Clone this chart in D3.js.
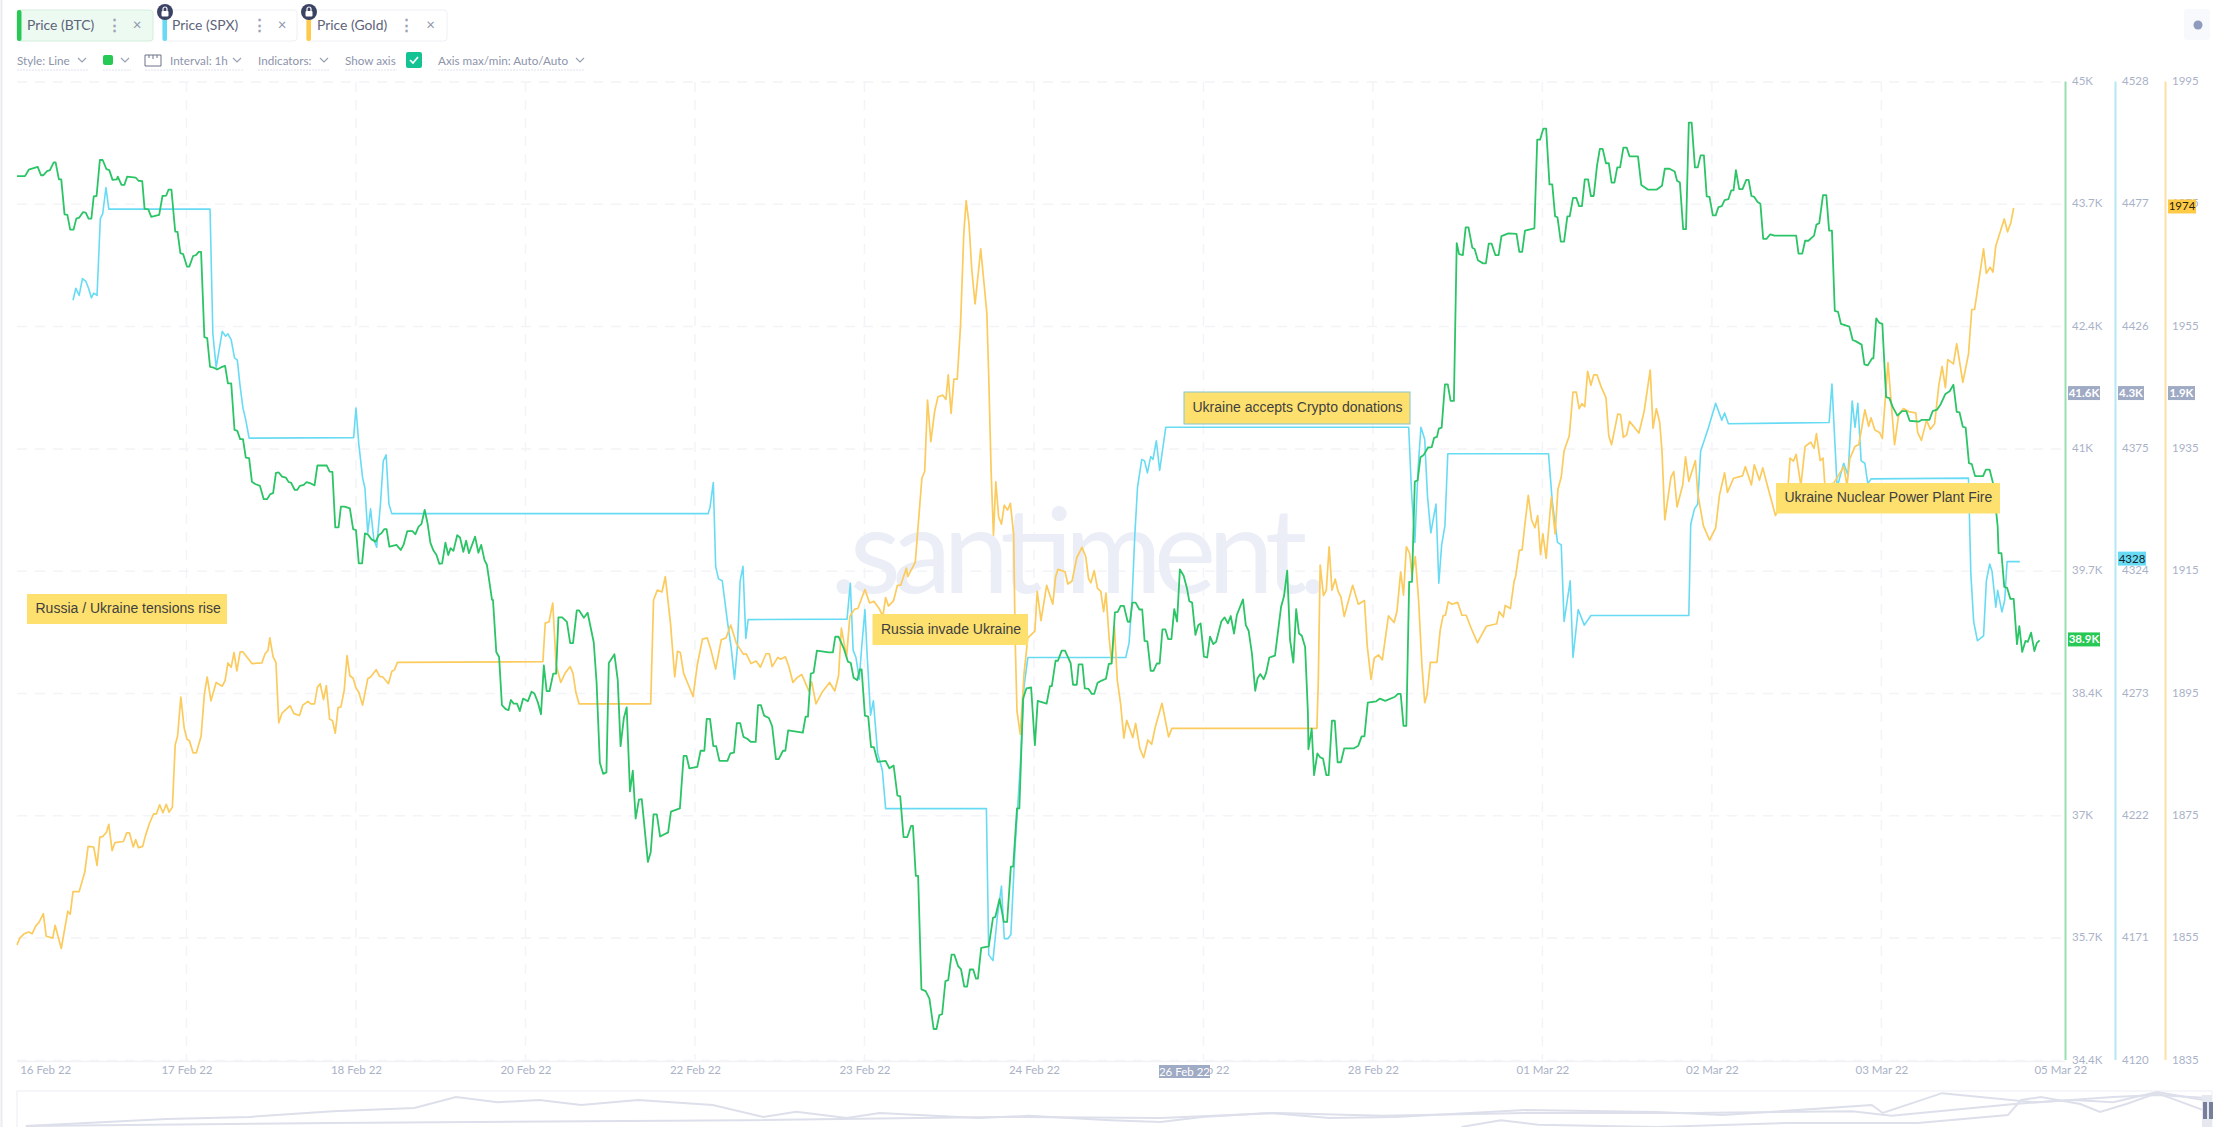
<!DOCTYPE html>
<html>
<head>
<meta charset="utf-8">
<script src="https://cdnjs.cloudflare.com/ajax/libs/d3/7.8.5/d3.min.js"></script>
<style>
html, body { margin: 0; padding: 0; background: #fff; }
svg { display: block; }
text { font-family: Lato, sans-serif; }
.axis text { font-size: 11.5px; fill: #aab2c8; }
.note text { font-family: "Liberation Sans", Arial, sans-serif; }
</style>
</head>
<body>
<div id="chart"></div>
<script>
// Hours since start of the window and price at that hour
var btcHours = [0,1.7,2.5,4.4,5.1,5.6,6.4,7,7.8,8.2,8.9,9.4,10.1,10.7,11.3,12,12.6,13.2,14,14.6,15.2,15.8,16.3,16.9,17.6,18.2,19,19.6,20.3,21.2,21.4,22.2,22.8,23.4,25.2,25.8,26.6,27.1,27.9,28.5,30.2,30.9,31.7,32.2,32.8,33.6,34.1,34.7,35.3,36.1,36.6,37.4,38,38.6,39.1,39.8,40.4,41,41.8,42.5,43.4,44.2,44.8,45.5,46.2,46.8,47.4,48,48.6,49.3,49.9,50.6,51.6,52.4,53.1,53.8,54.4,55,55.6,56.3,57.1,57.7,58.2,59,59.5,60.1,60.9,61.5,62.2,63.2,63.8,65.8,66.4,67,67.6,68.3,68.8,69.6,70.7,71.4,72,72.6,73.3,73.9,74.5,75.3,76.2,76.8,77.4,78,78.5,79.1,79.8,80.6,81.5,82.1,82.9,84,84.6,85.3,85.9,86.6,87.2,87.8,88.4,89.1,89.7,90.3,91,91.6,92.1,92.7,93.5,94.1,94.8,95.4,96,97.3,98,98.6,99.3,99.8,100.9,101.1,101.8,102.4,103,103.8,104.4,104.9,105.5,106.2,106.8,107.5,108.5,109.3,109.9,110.6,111.3,111.9,112.5,113.1,113.9,114.5,115,115.8,116.8,117.5,118.1,118.9,119.4,120.4,121.2,122.5,123.1,123.8,124.5,125.2,125.7,126.9,127.6,128.2,128.9,129.5,130.2,130.8,131.4,132.1,132.7,134,134.6,135.2,135.9,136.6,138.3,138.9,140.8,141.6,142.2,142.8,144.5,145.2,146,146.5,147.2,147.9,148.5,149.2,150.9,151.5,152.3,152.9,153.6,154.3,155.1,155.9,156.9,157.4,158,158.7,159.7,160.4,161.2,161.8,162.7,163.2,163.8,166.9,167.5,168,168.6,169.2,169.9,172.4,173.3,173.8,174.5,175.6,176.5,177.1,177.7,178.5,179,179.4,180.1,180.8,181.4,182,182.8,184.5,185.3,186.2,187,187.6,188.3,189.1,189.9,190.3,190.9,191.4,192.1,193,193.8,194.7,195.3,195.9,196.5,197.2,197.8,198.5,199.1,199.9,200.5,201.2,201.8,202.4,203.1,203.7,204.1,204.8,206.4,207.3,207.8,208.7,209.6,210.3,211.1,211.6,212.4,212.9,213.7,214.4,215.4,216.2,216.8,218.7,219.4,219.8,220.6,221.1,221.9,222.6,223.8,224.3,225.1,225.5,226.3,226.8,227.6,228.3,228.8,229.5,230.4,231.3,231.9,232.5,233.2,233.8,234.4,235.1,235.9,236.4,236.9,237.6,238.4,239,239.5,240.1,240.8,241.4,242.1,242.7,243.3,243.9,244.5,245.2,245.8,246.4,247,247.8,248.5,249,249.6,250.3,250.9,251.4,252.1,252.8,253.4,254.1,254.7,255.8,256.5,257.2,257.8,258.5,259.1,260.4,261,261.6,262.3,263,263.5,264.1,264.8,265.3,266,267.2,268.5,269.1,269.8,270.4,271.1,271.7,272.3,272.9,273.6,274.2,274.3,275,275.5,276.2,276.8,277.4,278.1,278.6,279.3,279.9,280.5,281.2,281.9,283.9,284.9,285.6,286.2,286.9,288.7,289.5,290.6,292.7,293.3,293.9,294.5,295.1,295.7,296.3,296.9,297.5,298.1,298.8,299.7,300.5,301,301.6,302,302.6,303.3,303.9,304.5,305.2,305.8,306.3,307.1,307.7,308.3,309.1,309.6,310.3,311.4,312,312.6,313.2,314,314.7,315.3,316.8,318.5,319.1,319.7,320.3,322.3,322.9,323.5,324.2,324.8,325.5,326.1,326.7,327.2,327.9,328.6,329.3,329.8,330.5,331.2,331.8,332.4,333,333.7,334.3,334.9,335.6,336.2,336.8,337.5,338.1,338.7,339.3,339.9,340.5,341.2,341.9,342.5,344.3,345,346.4,348.3,349.4,350,351,352.1,352.6,353.2,353.9,354.5,355.1,355.7,356.4,357,357.6,358.3,358.9,359.5,360.2,360.8,361.4,362.1,362.7,363.5,364.1,364.6,365.1,365.8,366.5,367.3,367.8,368.4,369,369.7,370.3,370.9,371.6,372.4,373.3,377.9,378.4,379.2,379.8,380.5,381.7,382.2,382.8,383.6,384.3,384.9,385.5,386.1,386.8,387.4,389.2,389.9,390.6,391.8,392.4,393.1,394,394.3,394.9,395.6,396.2,397,397.7,398.4,399.4,400.4,401.3,402,403.9,404.6,406.2,406.9,407.8,408.6,409.6,410.5,411.3,412,412.6,413.3,413.9,414.6,415.2,415.9,417.6,418.2,419,419.8,420.7,420.9,421.5,422.1,422.7,423.4,424.1,424.8,425.3,425.9,426.6,427.1,427.8,428.5,429,429.6];
var btcPrices = [43980,43980,44050,44080,43990,43990,44035,44045,44130,44130,43945,43945,43565,43560,43400,43400,43520,43530,43590,43585,43520,43520,43760,43765,44155,44155,44055,44045,43940,43945,43975,43885,43885,43975,43965,43930,43925,43625,43620,43540,43560,43765,43770,43835,43835,43380,43375,43145,43135,43000,43000,43115,43125,43160,43160,42235,42225,41915,41905,41885,41910,41925,41735,41735,41230,41220,41130,41130,40930,40925,40670,40645,40625,40480,40480,40535,40545,40765,40770,40725,40715,40665,40660,40580,40580,40625,40635,40665,40655,40630,40845,40845,40780,40775,40175,40175,40400,40400,40380,40155,40145,39785,39785,40110,40100,40045,40020,40090,40110,40155,40155,39965,39975,39985,39930,39985,40135,40135,40100,40183,40210,40365,40220,40010,39930,39875,39780,39785,40010,39875,39950,39920,40090,40065,39910,40030,39895,40075,39900,39985,39820,39770,39390,39390,38825,38770,38250,38205,38195,38305,38265,38265,38185,38320,38290,38395,38375,38285,38150,38680,38400,38400,38590,38590,39200,39200,39150,38920,38920,39275,39275,39195,39250,38930,38500,37625,37505,37520,38705,38800,38520,37805,38110,38225,37315,37540,37020,37225,37230,36550,36655,37065,37065,36825,36870,37095,37130,37700,37700,37565,37580,37755,37755,38100,38100,37805,37805,37645,37645,37725,37735,38055,38055,37905,37885,37850,37850,38250,38250,38135,38110,38020,37665,37665,37755,37755,37975,37950,38125,38125,38590,38600,38840,38820,38820,38990,38990,38865,38720,38705,38545,38520,38635,38635,38135,38125,37795,37795,37635,37645,37565,37595,37270,37260,36820,36820,36940,36940,36400,36400,35170,35150,35070,34740,34740,34890,34900,35260,35270,35545,35545,35420,35390,35200,35200,35385,35385,35285,35285,35620,35635,35945,35955,36150,35900,35900,36500,36500,37130,37130,38320,38430,38440,37815,38295,38265,38455,38455,38730,38730,38840,38840,38705,38470,38470,38690,38690,38430,38425,38370,38370,38490,38515,38535,38695,38700,39255,39260,39325,39325,39155,39150,39360,39360,39285,39285,38945,38940,38620,38620,38700,38700,39070,39070,38965,38965,39290,39155,39720,39650,39515,39375,39360,39010,39115,39135,38775,38765,38990,38910,38935,39155,39200,39135,39215,39025,39225,39395,39115,39055,38810,38405,38540,38585,38530,38595,38765,38785,39315,39425,39705,38955,38710,39290,39025,39000,38880,38160,37770,37995,37490,37725,37685,37670,37490,37490,38080,38080,37630,37630,37780,37780,37810,37910,37910,38275,38290,38320,38295,38340,38370,38370,38025,38025,39585,39585,40670,40685,40935,40960,41040,41045,41145,41155,41245,41255,41725,41725,41545,41545,43255,43135,43125,43425,43425,43205,43190,43070,43035,43035,43250,43250,43125,43125,43330,43360,43355,43160,43160,43390,43415,44375,44375,44495,44495,43890,43890,43545,43535,43270,43270,43545,43545,43745,43745,43655,43655,43945,43945,43765,43765,44095,44275,44275,44120,44120,43910,43910,44075,44075,44290,44290,44195,44195,43885,43835,43835,43875,44060,44060,44030,43930,43910,43405,43405,44560,44560,44075,44075,44205,44205,43760,43755,43555,43555,43645,43655,43720,43730,43825,43825,44045,43840,43840,43940,43940,43765,43755,43700,43680,43300,43300,43350,43335,43335,43140,43140,43280,43280,43335,43455,43470,43775,43775,43390,43390,42520,42510,42380,42350,42205,42190,42155,41940,41930,42005,42005,42440,42390,42380,41585,41575,41480,41385,41435,41435,41330,41320,41340,41340,41435,41450,41510,41620,41650,41720,41425,41420,41265,41255,40870,40860,40730,40730,40800,40800,40635,40185,39895,39895,39530,39520,39400,39400,38910,39105,38825,38945,38935,39035,38835,38920,38950];

var spxHours = [11.9,12.5,13.2,13.9,14.6,15.2,15.8,16.3,17,17.7,18.2,18.9,19.5,41,41.6,42.3,43.6,44.3,44.8,45.5,46.2,46.8,47.4,48,48.6,49.3,71.5,72,72.6,73.4,73.9,74.5,75.1,75.8,76.4,77.2,77.8,78.4,79,79.6,146.8,147.2,147.9,148.4,149,149.8,150.9,151.7,152.4,153,153.6,154.2,154.8,155.3,176.3,177,177.6,178.2,178.9,179.4,180.1,180.6,181.3,181.9,182.8,183.8,184.5,205.9,206.4,207.3,208.2,209.1,209.7,210.5,211.1,212,213.1,213.9,214.7,235.5,236.2,236.8,237.4,238,238.9,239.5,240.1,240.8,241.3,242,242.7,244,295.6,296.2,296.9,297.6,298.2,299,299.6,300.3,301.4,302,302.6,303.3,303.9,325.3,326.1,327.2,328,328.6,329.9,330.5,331.6,332.9,334.3,355.1,355.5,356.3,357,357.6,359.3,360.8,362.1,362.7,363.5,384.9,385.5,386.6,388,388.9,389.8,390.4,391,391.7,392.5,393.1,393.8,414.5,415,415.6,416.4,417.7,418.3,419,419.5,420.3,420.7,421.6,422.2,422.7,425.4];
var spxPrices = [4437,4442,4439,4446,4445,4442,4438,4440,4439,4471,4473,4484,4475,4475,4423,4409,4424,4422,4423,4420.5,4413,4412,4401,4392,4387,4379.5,4379.7,4392,4377,4363,4358.6,4340,4350,4337,4334,4352,4370,4372.5,4352,4348,4348,4350.6,4361,4326,4320.8,4320,4303,4292,4279,4292,4320,4326,4296,4303.8,4304,4319,4291,4288,4279,4292,4308,4288,4264,4270,4248,4241,4225,4225,4164,4161.6,4179.5,4192.7,4170.8,4170.8,4172.5,4209,4242.7,4276,4288,4288,4294,4310.6,4338,4359,4370.6,4370,4365,4371.8,4370.6,4378.4,4366,4384,4384,4357,4336,4367,4384,4379,4355,4340,4352,4319,4335,4343,4373,4373,4353,4336,4335,4303,4320,4288,4308,4301.5,4305.5,4305.5,4343.5,4350,4352,4374,4384,4394,4387,4390,4385.5,4386,4402,4359,4369,4364,4395,4384,4394,4370,4369,4360.5,4362.5,4362.8,4323,4303,4295,4297,4320,4327,4324,4309,4316,4307,4312,4328,4328];

var goldHours = [0,0.6,1.5,2.5,3.2,4,4.7,5.6,6.2,7.6,8.1,9.4,10.8,11.3,11.9,13.2,14.4,15.1,16.3,17,17.6,18.2,19,19.5,20.2,20.8,22.6,23.3,23.9,24.7,25.2,25.8,26.7,27.3,28.1,29,29.6,30.3,31,31.7,32.3,33,33.6,34.1,34.8,35.5,36.1,36.6,37.4,38.1,39.1,39.8,40.4,41.2,42.3,43.6,44.2,44.8,45.5,46.1,46.7,47.4,48,49.9,52,52.7,53.3,53.7,54.4,55,55.6,56.3,58,58.8,60,60.7,61.8,62.4,63.2,63.8,64.4,65.1,65.7,66.4,67,67.6,68.2,68.8,69.5,70.1,70.7,71.4,72,72.6,73.4,74.5,75.1,76.3,77,77.7,78.9,79.6,80.2,80.8,111.7,112.2,113,113.8,114.5,115.5,116.4,117.5,118.1,118.7,119.4,134.6,135.2,136,137,137.7,138.8,139.7,140.3,140.9,141.6,142.4,143.6,144.5,145.6,146.6,147.4,148.4,149.6,150.6,151.6,152.8,154.3,154.9,155.9,157,157.9,159.1,159.8,160.4,161.6,162.2,163.2,164,164.8,165.7,166.7,168.2,168.8,169.7,171,172.6,173.7,174.5,175.1,176.2,176.9,177.9,178.6,180.1,181.1,182,183.2,183.9,184.5,185.1,186.2,187,187.7,188.9,189.2,190.8,192.2,192.8,193.4,194.1,194.9,195.6,196.6,197.3,197.8,198.4,199,199.7,200.4,201.1,201.6,202.2,202.8,203.5,204.7,206,206.4,206.9,207.4,207.9,208.5,209.1,209.7,210.4,211,211.7,212,212.4,213.1,213.9,214.7,216.2,216.7,217.5,218.7,220,220.6,221.1,222.6,223.2,224.1,225.1,226.2,227,227.6,228.1,228.8,229.5,230.2,230.8,231.3,232,232.5,233.1,233.7,234.4,235.1,235.7,237,237.6,238.5,239.3,240.2,241,241.8,243.2,244.6,245.3,276.1,276.4,276.8,277.5,278.1,278.7,279.3,280,280.6,281.2,281.9,283.7,284.9,286.2,286.8,287.6,288.3,289.2,290,291.3,292.5,293.1,293.9,294.5,295.1,295.8,296.3,297,297.7,298.4,299,299.5,300.2,301.6,302.3,302.9,303.4,304,304.8,306,306.9,307.8,308.7,310.2,311.1,312.1,314.3,314.8,315.7,316.1,317.2,318,318.3,319.1,319.7,320.2,321,321.7,322.4,323,323.6,324.1,324.8,325.9,326.7,327.3,328,328.6,329.7,330.5,331.2,331.8,332.4,333,333.6,334.3,334.9,335.6,336.5,337.5,338.1,338.7,340,340.6,341.2,341.9,342.5,344.5,345.6,346.9,347.5,348.2,348.9,349.4,350,351.3,351.9,352.6,353.8,354.4,355.1,356.5,357,358.2,359.5,360.8,361.6,362.7,363.3,364.6,366.5,367.1,368.4,369,370.1,370.8,372,373.5,376.2,376.6,377.3,377.9,378.9,379.8,381,381.7,382.2,383,383.6,384,385.9,388,388.7,389.3,390.4,391.2,392.5,393.3,393.8,394.6,395.6,396.2,397.4,398.8,399.7,400.7,401.8,403.3,403.7,404.5,405.6,406.4,407.3,408.2,408.9,409.6,410.1,411.3,412,413.3,414.5,415.2,415.8,417.7,418.3,419.1,419.7,420.3,422.1,422.8,423.5,424.1];
var goldPrices = [1853.9,1855,1855.7,1856,1855.7,1857,1857.6,1859,1855.3,1855,1857.1,1853.3,1859.4,1858.9,1862.6,1862.6,1865.8,1870,1869.9,1866.9,1871.5,1871.6,1872.3,1873.6,1869.3,1870.6,1870.8,1872.2,1872.2,1869.9,1871.1,1869.8,1870,1871.8,1873.7,1875.3,1875.3,1876.8,1875.5,1876.9,1875.6,1876.4,1886.6,1888,1894.4,1889.4,1887.5,1887.3,1885.3,1885.3,1888,1894.9,1897.7,1893.8,1896.8,1896.2,1897.1,1900,1899.3,1901.7,1898.7,1901.8,1901.8,1899.9,1900,1901.5,1902,1904.1,1901,1900.1,1890.2,1891.8,1893,1891.7,1891.4,1893.1,1893.7,1893.3,1893.3,1896,1896.6,1894,1896.3,1890.8,1890.6,1888.5,1892.7,1892.8,1895.5,1901.2,1897.9,1897.5,1895.9,1895.2,1893.1,1897.4,1897.7,1898.9,1897.8,1897.7,1896.6,1898.6,1898.9,1900.1,1900.2,1906.5,1906.7,1909.8,1899.7,1896.8,1898.3,1899.4,1898.3,1895.2,1893.3,1893.3,1910.3,1911.9,1911.6,1914.1,1906.5,1897.7,1901.9,1901.7,1898.3,1896.8,1894.5,1899.7,1903.9,1904.1,1902.1,1899,1903.8,1904.1,1906.2,1903.2,1901.4,1901.5,1899.9,1900.3,1899.3,1901.5,1901.5,1899.4,1900.9,1900.6,1901,1899.3,1896.8,1897.6,1898.1,1895.4,1896.9,1893.3,1895.2,1896.8,1895.4,1897.9,1905.7,1901,1907.6,1908.8,1908.9,1912,1909.8,1910.1,1908.8,1907.6,1910.7,1909.3,1910.2,1912.7,1912.7,1915.5,1914.1,1916.5,1930.2,1931.3,1943,1936.2,1941.1,1943.5,1943.8,1943.1,1947.1,1940.8,1946.4,1946.4,1955,1970.2,1975.6,1971.9,1964.3,1958.7,1967.7,1957.2,1946.8,1931.5,1920.9,1929.6,1923.9,1922.7,1925.8,1925,1926.1,1920.9,1904.3,1892.1,1888.3,1898.3,1904.1,1905.2,1911.7,1906.9,1912.7,1909.6,1914.1,1915.3,1914.9,1912.9,1913.4,1917.2,1918.9,1917.4,1913.8,1913.1,1915.1,1912.2,1911.7,1908.4,1911.4,1903.8,1900,1905.9,1897.2,1893.4,1887.7,1890.6,1887.8,1890.1,1886,1884.5,1887.4,1886.7,1889.6,1893.4,1887.9,1889.3,1889.3,1897.2,1916,1911,1911.9,1919,1911.9,1913.7,1911.7,1910.8,1907.6,1912.7,1909.6,1910.2,1902.7,1897.3,1900.8,1901.3,1900.5,1907.7,1906.6,1908.4,1914.9,1911.1,1919,1917.9,1914.4,1917.4,1910.3,1899.7,1893.5,1894.8,1900.1,1900.1,1905.4,1907.7,1907.8,1910,1909.6,1909.9,1907.8,1907.8,1906,1903.3,1904.6,1906,1906.4,1908.4,1907.5,1909.4,1908.9,1913.4,1914.1,1918.4,1918.5,1922.1,1927.4,1923.4,1922.1,1924.1,1917.7,1921.1,1917.1,1927.1,1921.1,1928.4,1930.4,1934.7,1937.1,1944.3,1944.3,1941.6,1942.4,1941.9,1947.7,1945.4,1947.1,1947.1,1945.1,1943.4,1937.1,1935.7,1940.7,1940.6,1936.9,1937.3,1939.5,1937.6,1941.1,1947.9,1938.4,1941.6,1939.4,1934.7,1923.4,1930.4,1931.3,1925.5,1929.1,1933.7,1929.7,1933.1,1927.7,1922.4,1920.1,1922.1,1927.4,1931.1,1927.9,1930.2,1930.6,1932.1,1929.1,1932.4,1929.9,1931.9,1928.4,1924.1,1929,1933.5,1933,1934.1,1929,1935.4,1936.1,1935.1,1937.5,1933.1,1933.5,1929,1929.4,1932.1,1929,1933.4,1935.4,1935.7,1941.4,1938.7,1940.1,1938.1,1937.7,1936.7,1949.1,1935.7,1940.7,1941.6,1941.1,1940.9,1937.7,1936.4,1939.7,1938.2,1939.1,1945.4,1948.5,1945,1949.6,1948.9,1952.2,1945.9,1950.5,1957.8,1957.8,1967.7,1963.7,1964.7,1963.9,1968.2,1972.6,1970.5,1972,1974.4];

// Tick labels
var btcTickLabels = ["34.4K","35.7K","37K","38.4K","39.7K","41K","42.4K","43.7K","45K"];
var spxTickLabels = ["4120","4171","4222","4273","4324","4375","4426","4477","4528"];
var goldTickLabels = ["1835","1855","1875","1895","1915","1935","1955","1975","1995"];
var dateHours = [6,36,72,108,144,180,216,252,288,324,360,396,434];
var dateLabels = ["16 Feb 22","17 Feb 22","18 Feb 22","20 Feb 22","22 Feb 22","23 Feb 22","24 Feb 22","26 Feb 22","28 Feb 22","01 Mar 22","02 Mar 22","03 Mar 22","05 Mar 22"];

// Events marked on the chart
var noteTexts = ["Russia / Ukraine tensions rise","Russia invade Ukraine","Ukraine accepts Crypto donations","Ukraine Nuclear Power Plant Fire"];

// Overview strip: percent of the full history and relative level
var miniAPos = [0.4,6.8,10.6,14.4,18.1,20,21.9,23.8,25.7,28.3,31.7,34,35.5,37.8,39.3,43.8,46.1,49.8,52.1,54,57,59.8,62.8,68.7,74.7,77.7,84.5,85,87.7,91.9,93.7,95.5,97.5,99.6];
var miniAVals = [3,22,28,44,53,83,69,75,61,75,61,28,42,25,39,25,31,19,14,28,39,25,28,47,42,33,61,39,94,69,75,69,97,75];
var miniBPos = [0.4,14.4,33.2,44.6,52.1,57.4,62.2,68.7,76.2,83.6,85.4,91,95.5,97.5,99.6];
var miniBVals = [3,11,19,28,25,39,31,39,39,44,31,64,83,89,81];
var miniCPos = [65.8,67.6,69.3,74.7,80.6,86.6,90.7,91.3,92.2,94,94.9,96.1,97.5,99.6];
var miniCVals = [0,19,6,0,11,11,33,75,83,64,42,64,94,47];

var width = 2222,
	height = 1127,
	plot = {left: 17, right: 2065, top: 82, bottom: 1060.4},
	btcColor = "#2bc466",
	spxColor = "#68dbf4",
	goldColor = "#fbcb5d",
	greyTag = "#9faac4";

var svg = d3.select("#chart")
	.append("svg")
	.attr("width", width)
	.attr("height", height);

var x = d3.scaleLinear().domain([0, 435]).range([plot.left, plot.right]);
var yBtc = d3.scaleLinear().domain([34400, 45000]).range([plot.bottom, plot.top]);
var ySpx = d3.scaleLinear().domain([4120, 4528]).range([plot.bottom, plot.top]);
var yGold = d3.scaleLinear().domain([1835, 1995]).range([plot.bottom, plot.top]);

var btcTicks = d3.range(34400, 45001, 1325),
	spxTicks = d3.range(4120, 4529, 51),
	goldTicks = d3.range(1835, 1996, 20),
	gridHours = d3.range(36, 397, 36);

// Page edge
svg.append("line").attr("x1", 1.5).attr("x2", 1.5).attr("y1", 0).attr("y2", height)
	.attr("stroke", "#ececf0").attr("stroke-width", 2);

// Grid
var grid = svg.append("g").attr("stroke", "#f3f4f7").attr("stroke-dasharray", "10 8").attr("stroke-width", 1.5);
grid.selectAll(".h").data(btcTicks).join("line")
	.attr("class", "h")
	.attr("x1", plot.left).attr("x2", plot.right)
	.attr("y1", function(d) { return yBtc(d); }).attr("y2", function(d) { return yBtc(d); });
grid.selectAll(".v").data(gridHours).join("line")
	.attr("class", "v")
	.attr("y1", plot.top).attr("y2", plot.bottom)
	.attr("x1", function(d) { return x(d); }).attr("x2", function(d) { return x(d); });
svg.append("line").attr("x1", plot.left).attr("x2", plot.right)
	.attr("y1", plot.bottom + 1).attr("y2", plot.bottom + 1)
	.attr("stroke", "#f1f2f6").attr("stroke-width", 1.5);

// Watermark
svg.append("text")
	.attr("x", 830).attr("y", 593)
	.attr("textLength", 497)
	.style("font-size", "118px")
	.style("font-weight", 400)
	.attr("fill", "#ebeef6")
	.text(".santiment.");

// Series
function drawSeries(hours, prices, yScale, color, w) {
	var rows = d3.zip(hours, prices);
	var line = d3.line()
		.x(function(d) { return x(d[0]); })
		.y(function(d) { return yScale(d[1]); });
	svg.append("path")
		.datum(rows)
		.attr("d", line)
		.attr("fill", "none")
		.attr("stroke", color)
		.attr("stroke-width", w)
		.attr("stroke-linejoin", "round");
}
drawSeries(spxHours, spxPrices, ySpx, spxColor, 1.6);
drawSeries(goldHours, goldPrices, yGold, goldColor, 1.7);
drawSeries(btcHours, btcPrices, yBtc, btcColor, 1.8);

// Right axes
function drawAxis(scale, ticks, labels, color, axisX) {
	var axis = d3.axisRight(scale)
		.tickValues(ticks)
		.tickSize(0)
		.tickPadding(7)
		.tickFormat(function(d, i) { return labels[i]; });
	var g = svg.append("g")
		.attr("class", "axis")
		.attr("transform", "translate(" + axisX + ",-1)")
		.call(axis);
	g.select(".domain").attr("stroke", color).attr("stroke-width", 2);
}
drawAxis(yBtc, btcTicks, btcTickLabels, "#97dfb0", 2065);
drawAxis(ySpx, spxTicks, spxTickLabels, "#b4e8f4", 2115);
drawAxis(yGold, goldTicks, goldTickLabels, "#fde0a2", 2165);

// Date axis
var dateAxis = d3.axisBottom(x)
	.tickValues(dateHours)
	.tickSize(0)
	.tickPadding(5)
	.tickFormat(function(d, i) { return dateLabels[i]; });
var dateG = svg.append("g")
	.attr("class", "axis")
	.attr("transform", "translate(0," + plot.bottom + ")")
	.call(dateAxis);
dateG.select(".domain").remove();

// Value tags next to axes
function drawTag(tagX, tagW, centerY, fill, color, label, weight) {
	svg.append("rect").attr("x", tagX).attr("y", centerY - 7).attr("width", tagW).attr("height", 14)
		.attr("fill", fill);
	svg.append("text").attr("x", tagX + tagW / 2).attr("y", centerY + 4)
		.attr("text-anchor", "middle")
		.style("font-size", "11.5px")
		.style("font-weight", weight)
		.attr("fill", color)
		.text(label);
}
drawTag(2068, 32, yBtc(41630), greyTag, "#fff", "41.6K", 700);
drawTag(2118, 26, yBtc(41630), greyTag, "#fff", "4.3K", 700);
drawTag(2168, 27, yBtc(41630), greyTag, "#fff", "1.9K", 700);
drawTag(2068, 32, yBtc(btcPrices[btcPrices.length - 1]) - 1, "#26c953", "#fff", "38.9K", 700);
drawTag(2118, 28, ySpx(spxPrices[spxPrices.length - 1]) - 3, spxColor, "#16232b", "4328", 400);
drawTag(2168, 28, yGold(goldPrices[goldPrices.length - 1]) - 1.5, "#ffcb47", "#2b2410", "1974", 400);

// Hover date tag
svg.append("rect").attr("x", 1159).attr("y", 1065).attr("width", 51).attr("height", 13).attr("fill", greyTag);
svg.append("text").attr("x", 1184.5).attr("y", 1075.5).attr("text-anchor", "middle")
	.style("font-size", "11.5px").attr("fill", "#fff").text(dateLabels[7]);

// Event notes
var noteBoxes = [
	{x: 27, y: 594, w: 200, h: 30, border: false},
	{x: 872.5, y: 614, w: 155.5, h: 31, border: false},
	{x: 1184, y: 392, w: 226, h: 32, border: true},
	{x: 1776, y: 483, w: 224, h: 30.5, border: false}
];
var notes = svg.append("g").attr("class", "note");
notes.selectAll("rect").data(noteBoxes).join("rect")
	.attr("x", function(d) { return d.x; })
	.attr("y", function(d) { return d.y; })
	.attr("width", function(d) { return d.w; })
	.attr("height", function(d) { return d.h; })
	.attr("fill", "#fde06e")
	.attr("stroke", function(d) { return d.border ? "#86c6d2" : "none"; });
notes.selectAll("text").data(noteBoxes).join("text")
	.attr("x", function(d) { return d.x + 8.5; })
	.attr("y", function(d) { return d.y + d.h / 2 + 4; })
	.style("font-size", "14px")
	.attr("fill", "#3f3f3f")
	.text(function(d, i) { return noteTexts[i]; });

// Overview strip
var miniX = d3.scaleLinear().domain([0, 100]).range([17, 2212]);
var miniY = d3.scaleLinear().domain([0, 100]).range([1127, 1091]);
svg.append("rect").attr("x", 17).attr("y", 1091).attr("width", 2195).attr("height", 40)
	.attr("fill", "#fff").attr("stroke", "#eceef3");
[[miniAPos, miniAVals], [miniBPos, miniBVals], [miniCPos, miniCVals]].forEach(function(s) {
	svg.append("path")
		.datum(d3.zip(s[0], s[1]))
		.attr("d", d3.line()
			.x(function(d) { return miniX(d[0]); })
			.y(function(d) { return miniY(d[1]); }))
		.attr("fill", "none")
		.attr("stroke", "#dde0eb")
		.attr("stroke-width", 2);
});
svg.append("rect").attr("x", 2202).attr("y", 1095).attr("width", 10).attr("height", 32).attr("fill", "#e6e8f0");
svg.append("rect").attr("x", 2203).attr("y", 1102).attr("width", 4).attr("height", 17).attr("fill", "#76809a");
svg.append("rect").attr("x", 2209).attr("y", 1102).attr("width", 4).attr("height", 17).attr("fill", "#76809a");

// Metric tabs
var tabs = [
	{x: 17, w: 136, label: "Price (BTC)", color: "#26c953", fill: "#ecfaf1", stroke: "#d2eedd", textX: 27, dots: 114, close: 137, lock: false},
	{x: 162.5, w: 134.5, label: "Price (SPX)", color: spxColor, fill: "#fff", stroke: "#eff0f4", textX: 172, dots: 259, close: 282, lock: true},
	{x: 306.5, w: 140.5, label: "Price (Gold)", color: "#ffcb47", fill: "#fff", stroke: "#eff0f4", textX: 317, dots: 406, close: 430.5, lock: true}
];
tabs.forEach(function(t) {
	svg.append("rect").attr("x", t.x).attr("y", 10).attr("width", t.w).attr("height", 31).attr("rx", 3)
		.attr("fill", t.fill).attr("stroke", t.stroke);
	svg.append("rect").attr("x", t.x).attr("y", 10).attr("width", 4.5).attr("height", 31).attr("rx", 2)
		.attr("fill", t.color);
	svg.append("text").attr("x", t.textX).attr("y", 30).style("font-size", "13.9px").attr("fill", "#5d6379").text(t.label);
	svg.append("text").attr("x", t.dots).attr("y", 30).attr("text-anchor", "middle").style("font-size", "15px")
		.style("font-weight", 700).attr("fill", "#9aa1b5").text("\u22EE");
	svg.append("text").attr("x", t.close).attr("y", 29.5).attr("text-anchor", "middle").style("font-size", "15px")
		.attr("fill", "#8f96ad").text("\u00D7");
	if (t.lock) {
		svg.append("circle").attr("cx", t.x + 2.5).attr("cy", 12).attr("r", 8).attr("fill", "#3b4363");
		svg.append("rect").attr("x", t.x - 1).attr("y", 11).attr("width", 7).attr("height", 5.5).attr("rx", 1).attr("fill", "#fff");
		svg.append("path").attr("d", "M" + (t.x + 0.5) + " 11 v-2 a2 2 0 0 1 4 0 v2")
			.attr("fill", "none").attr("stroke", "#fff").attr("stroke-width", 1.2);
	}
});

// Controls row
var controls = [
	{label: "Style: Line", x: 17, chevron: 82, end: 88},
	{label: "Interval: 1h", x: 170, chevron: 237, end: 243, start: 145},
	{label: "Indicators:", x: 258, chevron: 324, end: 330},
	{label: "Show axis", x: 345, end: 397},
	{label: "Axis max/min: Auto/Auto", x: 438, chevron: 580, end: 584}
];
function chevron(cx) {
	svg.append("path").attr("d", "M" + (cx - 4) + " 58 l4 4 l4 -4")
		.attr("fill", "none").attr("stroke", "#9aa1b5").attr("stroke-width", 1.2);
}
function underline(a, b) {
	svg.append("line").attr("x1", a).attr("x2", b).attr("y1", 70).attr("y2", 70)
		.attr("stroke", "#dfe2ec").attr("stroke-dasharray", "2 1");
}
controls.forEach(function(c) {
	svg.append("text").attr("x", c.x).attr("y", 64.5).style("font-size", "11.7px").attr("fill", "#8d94ab").text(c.label);
	if (c.chevron) { chevron(c.chevron); }
	underline(c.start || c.x, c.end);
});
svg.append("rect").attr("x", 103).attr("y", 55).attr("width", 10).attr("height", 10).attr("rx", 2).attr("fill", "#26c953");
chevron(125);
underline(103, 131);
svg.append("path").attr("d", "M145 55 h16 v11 h-16 z M149 55 v3 M153 55 v4 M157 55 v3")
	.attr("fill", "none").attr("stroke", "#6d7389").attr("stroke-width", 1);
svg.append("rect").attr("x", 406).attr("y", 52).attr("width", 16).attr("height", 16).attr("rx", 2).attr("fill", "#14c393");
svg.append("path").attr("d", "M410 60 l3 3 l5 -6").attr("fill", "none").attr("stroke", "#fff").attr("stroke-width", 1.7);

// Top right icon
svg.append("rect").attr("x", 2184).attr("y", 9).attr("width", 26).attr("height", 31).attr("rx", 3).attr("fill", "#f8f9fc");
svg.append("circle").attr("cx", 2198).attr("cy", 25).attr("r", 4.5).attr("fill", "#8f9bbd");
</script>
</body>
</html>
